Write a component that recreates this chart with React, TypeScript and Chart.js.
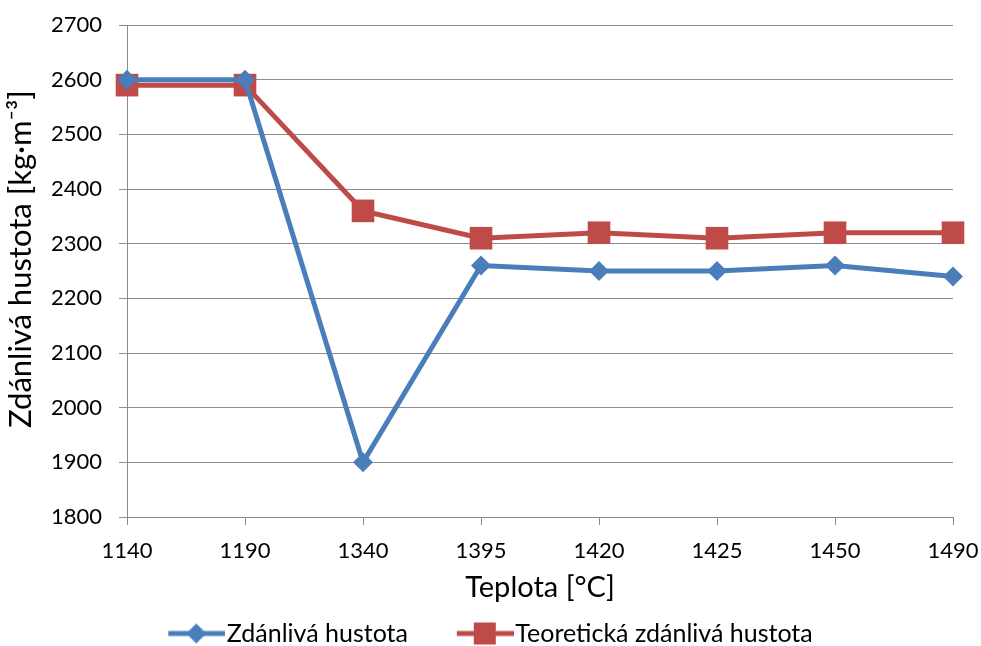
import React, { useEffect, useRef } from "react";
import { Chart, registerables } from "chart.js";

Chart.register(...registerables);

const categories = ["1140", "1190", "1340", "1395", "1420", "1425", "1450", "1490"];
const apparentDensity = [2600, 2600, 1900, 2260, 2250, 2250, 2260, 2240];
const theoreticalDensity = [2590, 2590, 2360, 2310, 2320, 2310, 2320, 2320];
const seriesNames = ["Zdánlivá hustota", "Teoretická zdánlivá hustota"];
const xTitle = "Teplota [°C]";
const yTitle = "   Zdánlivá hustota [kg·m⁻³]";

const BLUE = "#4a7ebb";
const RED = "#be4b48";
const GRID = "#8c8c8c";
const FONT = "Lato, 'Open Sans', sans-serif";

function legendIcon(color: string, kind: "diamond" | "square"): HTMLCanvasElement {
  const c = document.createElement("canvas");
  c.width = 68;
  c.height = 24;
  const ctx = c.getContext("2d")!;
  ctx.strokeStyle = color;
  ctx.lineWidth = 5;
  ctx.beginPath();
  ctx.moveTo(11, 12);
  ctx.lineTo(68, 12);
  ctx.stroke();
  ctx.fillStyle = color;
  const cx = 39;
  if (kind === "diamond") {
    ctx.beginPath();
    ctx.moveTo(cx, 2);
    ctx.lineTo(cx + 10, 12);
    ctx.lineTo(cx, 22);
    ctx.lineTo(cx - 10, 12);
    ctx.closePath();
    ctx.fill();
  } else {
    ctx.fillRect(cx - 11, 1, 22, 22);
  }
  return c;
}

export default function App() {
  const ref = useRef<HTMLCanvasElement | null>(null);

  useEffect(() => {
    document.body.style.margin = "0";
    const icons = [legendIcon(BLUE, "diamond"), legendIcon(RED, "square")];
    const gaps = ["       ", ""];
    const chart = new Chart(ref.current!, {
      type: "line",
      data: {
        labels: categories,
        datasets: [
          {
            label: seriesNames[0],
            data: apparentDensity,
            borderColor: BLUE,
            backgroundColor: BLUE,
            borderWidth: 5,
            pointStyle: "rectRot",
            pointRadius: 10,
            pointBorderWidth: 0,
            tension: 0,
          },
          {
            label: seriesNames[1],
            data: theoreticalDensity,
            borderColor: RED,
            backgroundColor: RED,
            borderWidth: 5,
            pointStyle: "rect",
            pointRadius: 16,
            pointBorderWidth: 0,
            tension: 0,
          },
        ],
      },
      options: {
        animation: false,
        responsive: false,
        layout: { padding: { top: 0, right: 0, left: 0, bottom: -10 } },
        plugins: {
          tooltip: { enabled: false },
          legend: {
            position: "bottom",
            labels: {
              usePointStyle: true,
              pointStyleWidth: 46,
              color: "#000",
              font: { family: FONT, size: 25 },
              padding: 4,
              generateLabels: (chart: any) =>
                chart.data.datasets.map((ds: any, i: number) => ({
                  text: ds.label + gaps[i],
                  pointStyle: icons[i],
                  fillStyle: ds.borderColor,
                  strokeStyle: ds.borderColor,
                  lineWidth: 0,
                  hidden: false,
                  datasetIndex: i,
                  fontColor: "#000",
                })),
            },
          },
        },
        scales: {
          x: {
            type: "category",
            offset: false,
            afterFit: (s: any) => {
              s.paddingLeft = 0;
              s.paddingRight = 28;
              s.height = 100;
            },
            grid: {
              drawOnChartArea: false,
              drawTicks: true,
              tickLength: 8,
              color: GRID,
            },
            border: { color: GRID, width: 1 },
            ticks: { color: "#000", font: { family: FONT, size: 22 }, padding: 13, maxRotation: 0, autoSkip: false },
            title: {
              display: true,
              text: xTitle,
              color: "#000",
              font: { family: FONT, size: 29 },
              padding: { top: 0, bottom: 12 },
            },
          },
          y: {
            min: 1800,
            max: 2700,
            afterFit: (s: any) => {
              s.width = 127;
              s.paddingTop = 25;
              s.paddingBottom = 0;
            },
            grid: { color: GRID, tickLength: 8 },
            border: { color: GRID, width: 1 },
            ticks: {
              stepSize: 100,
              color: "#000",
              font: { family: FONT, size: 22 },
              padding: 17,
              callback: (v: any) => String(v),
            },
            title: {
              display: true,
              text: yTitle,
              color: "#000",
              font: { family: FONT, size: 31 },
              padding: { top: 2, bottom: 0 },
            },
          },
        },
      },
    });
    return () => chart.destroy();
  }, []);

  return (
    <div style={{ width: 981, height: 646 }}>
      <canvas ref={ref} width={981} height={646} style={{ display: "block" }} />
    </div>
  );
}
